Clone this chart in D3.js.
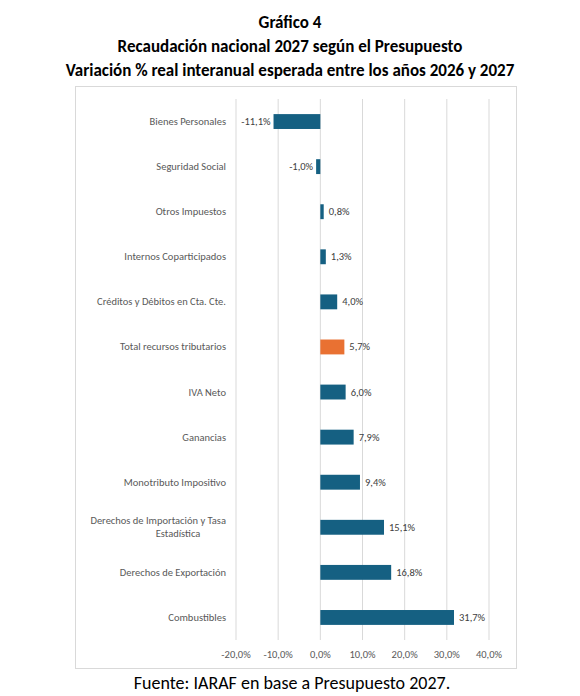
<!DOCTYPE html>
<html><head><meta charset="utf-8">
<script src="https://cdn.jsdelivr.net/npm/d3@7"></script>
<style>body{margin:0;background:#fff}</style></head>
<body><svg id="c" width="580" height="696"></svg>
<script>
const categories=["Bienes Personales","Seguridad Social","Otros Impuestos","Internos Coparticipados","Créditos y Débitos en Cta. Cte.","Total recursos tributarios","IVA Neto","Ganancias","Monotributo Impositivo","Derechos de Importación y Tasa Estadística","Derechos de Exportación","Combustibles"];
const values=[-11.1,-1.0,0.8,1.3,4.0,5.7,6.0,7.9,9.4,15.1,16.8,31.7];
const ticks=[-20,-10,0,10,20,30,40];
const titles=["Gráfico 4","Recaudación nacional 2027 según el Presupuesto","Variación % real interanual esperada entre los años 2026 y 2027"];
const source="Fuente: IARAF en base a Presupuesto 2027.";

const svg=d3.select("#c");
const font="Calibri, Carlito, Lato, sans-serif";
titles.forEach((t,i)=>svg.append("text").attr("x",290).attr("y",28+i*24).attr("text-anchor","middle")
  .attr("font-family",font).attr("font-weight","bold").attr("font-size",17).attr("fill","#000").text(t));
svg.append("rect").attr("x",75.5).attr("y",86.5).attr("width",441).attr("height",582).attr("fill","none").attr("stroke","#d9d9d9");
const x=d3.scaleLinear().domain([-20,40]).range([236,489]);
const y=d3.scaleBand().domain(categories).range([99,640]).paddingInner(0.67).paddingOuter(0.335);
const fmt=v=>d3.format(".1f")(v).replace(".",",").replace("\u2212","-")+"%";
svg.append("g").selectAll("line").data(ticks).join("line")
 .attr("x1",d=>x(d)).attr("x2",d=>x(d)).attr("y1",99).attr("y2",640).attr("stroke","#d9d9d9");
svg.append("g").selectAll("text").data(ticks).join("text").attr("x",d=>x(d)).attr("y",658)
 .attr("text-anchor","middle").attr("font-family",font).attr("font-size",10.5).attr("fill","#595959").text(fmt);
svg.append("g").selectAll("rect").data(values).join("rect")
 .attr("x",(d)=>x(Math.min(0,d))).attr("width",d=>Math.abs(x(d)-x(0)))
 .attr("y",(d,i)=>y(categories[i])).attr("height",y.bandwidth())
 .attr("fill",(d,i)=>categories[i]==="Total recursos tributarios"?"#e97132":"#156082");
svg.append("g").selectAll("text").data(values).join("text")
 .attr("x",d=>d<0?x(d)-3:x(d)+5).attr("y",(d,i)=>y(categories[i])+y.bandwidth()/2+3.5)
 .attr("text-anchor",d=>d<0?"end":"start").attr("font-family",font).attr("font-size",10.5).attr("fill","#404040").text(fmt);
const lab=svg.append("g");
categories.forEach((c,i)=>{
  const cy=y(c)+y.bandwidth()/2;
  const lines=c==="Derechos de Importación y Tasa Estadística"?["Derechos de Importación y Tasa","Estadística"]:[c];
  lines.forEach((l,j)=>lab.append("text").attr("x",l==="Estadística"?178:226).attr("y",cy+3.5+(j-(lines.length-1)/2)*13)
    .attr("text-anchor",l==="Estadística"?"middle":"end").attr("font-family",font).attr("font-size",10.5).attr("fill","#595959").text(l));
});
svg.append("text").attr("x",292).attr("y",689).attr("text-anchor","middle").attr("font-family",font)
 .attr("font-size",18).attr("fill","#000").text(source);
</script></body></html>
